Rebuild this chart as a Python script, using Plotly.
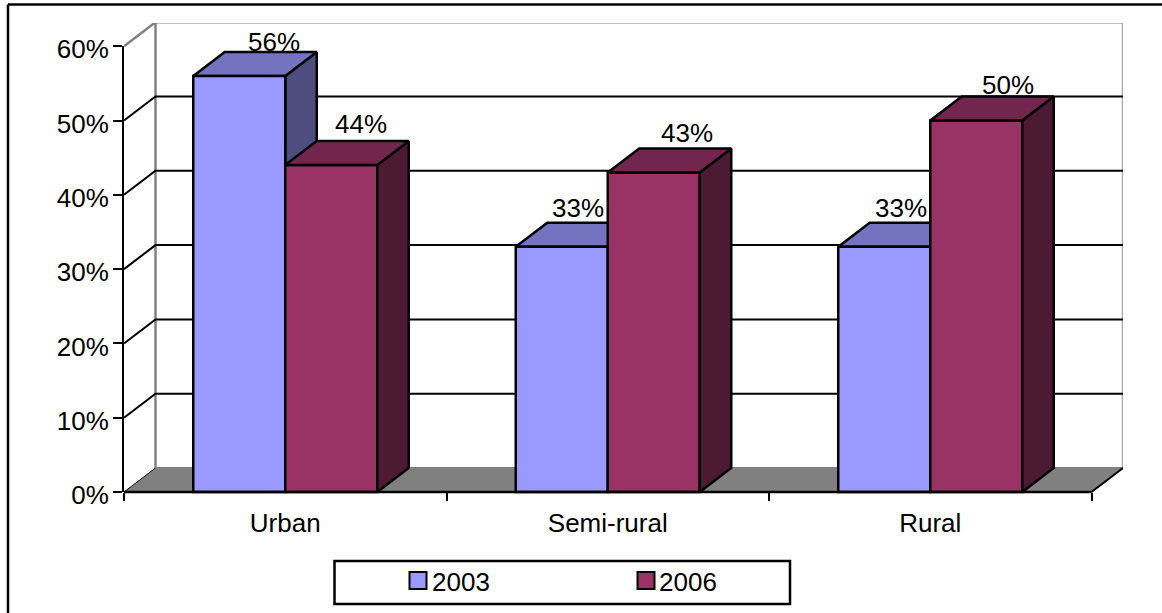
import plotly.graph_objects as go

categories = ["Urban", "Semi-rural", "Rural"]
years = ["2003", "2006"]
values_2003 = [56, 33, 33]
values_2006 = [44, 43, 50]
percent_ticks = [0, 10, 20, 30, 40, 50, 60]

WIDTH, HEIGHT = 1162, 613
M_L, M_R, M_T, M_B = 124, 39, 23, 111
BELOW_ZERO_PX = 10
PLOT_W = WIDTH - M_L - M_R
PLOT_H = HEIGHT - M_T - M_B
PX_PER_CAT = 322.5
PX_PER_PCT = 7.43
DX = 31.5 / PX_PER_CAT
DY = 24 / PX_PER_PCT
BAR_W = 92 / PX_PER_CAT
X_MAX = PLOT_W / PX_PER_CAT
Y_MIN = -BELOW_ZERO_PX / PX_PER_PCT
Y_MAX = Y_MIN + PLOT_H / PX_PER_PCT
centers = [i + 0.5 for i in range(len(categories))]
FONT = "Liberation Sans, Arial, sans-serif"
FONT_SIZE = 26
EDGE = 2.5

FRONT = {"2003": "#9999FF", "2006": "#993366"}
TOP = {"2003": "#7373BF", "2006": "#73264D"}
SIDE = {"2003": "#4D4D80", "2006": "#4D1A33"}
WALL = "#808080"

# y  : the visible percent axis, 0-60% on the front plane
# y2 : scale for the walls and the faces behind the front bars
# y3 : scale for the front bars and the faces in front of them
BACK_Y, FRONT_Y = "y2", "y3"


def poly(xs, ys, fill, xaxis="x", yaxis=BACK_Y, line="black", lw=EDGE):
    """Filled outline in data coordinates."""
    return go.Scatter(x=xs + xs[:1], y=ys + ys[:1], mode="lines", fill="toself",
                      fillcolor=fill, line=dict(color=line, width=lw),
                      xaxis=xaxis, yaxis=yaxis, hoverinfo="skip",
                      showlegend=False, cliponaxis=False)


def stroke(xs, ys, color="black", lw=2):
    return go.Scatter(x=xs, y=ys, mode="lines", line=dict(color=color, width=lw),
                      xaxis="x", yaxis=BACK_Y,
                      hoverinfo="skip", showlegend=False, cliponaxis=False)


def faces(x0, x1, v, year, xaxis, yaxis):
    """Top and right-hand faces of a bar running from x0 to x1 up to value v."""
    top = poly([x0, x1, x1 + DX, x0 + DX], [v, v, v + DY, v + DY], TOP[year], xaxis, yaxis)
    side = poly([x1, x1 + DX, x1 + DX, x1], [0, DY, v + DY, v], SIDE[year], xaxis, yaxis)
    return [side, top]


fig = go.Figure()

# Empty trace that keeps the percent axis in the figure
fig.add_trace(go.Scatter(x=[0], y=[0], mode="markers", marker=dict(opacity=0), xaxis="x", yaxis="y",
                         hoverinfo="skip", showlegend=False))

# Floor, back wall, and the grid running round the left wall onto the back wall
fig.add_trace(poly([0, 3, 3 + DX, DX], [0, 0, DY, DY], WALL, lw=1))
fig.add_trace(stroke([DX, DX], [DY, 60 + DY], WALL, 2.5))
fig.add_trace(stroke([DX, 3 + DX], [60 + DY, 60 + DY], WALL, 2.5))
fig.add_trace(stroke([3 + DX, 3 + DX], [DY, 60 + DY], "#A6A6A6", 2.5))
fig.add_trace(stroke([DX, 3 + DX], [DY, DY], WALL, 2))
fig.add_trace(stroke([0, DX], [60, 60 + DY], WALL, 2.5))
for t in percent_ticks[1:-1]:
    fig.add_trace(stroke([0, DX, 3 + DX], [t, t + DY, t + DY]))
fig.add_trace(stroke([3, 3 + DX], [0, DY]))

# The 2003 top and side faces sit behind the 2006 bars
for c, v in zip(centers, values_2003):
    fig.add_traces(faces(c - BAR_W, c, v, "2003", "x", BACK_Y))

# Front faces
for year, vals in zip(years, (values_2003, values_2006)):
    fig.add_trace(go.Bar(x=centers, y=vals, name=year, xaxis="x2", yaxis=FRONT_Y,
                         marker=dict(color=FRONT[year], line=dict(color="black", width=EDGE)),
                         showlegend=False, hoverinfo="skip"))

for c, v in zip(centers, values_2006):
    fig.add_traces(faces(c, c + BAR_W, v, "2006", "x2", FRONT_Y))

# Horizontal front axis stops at the end of the last category
fig.add_trace(go.Scatter(x=[0, 3], y=[0, 0], mode="lines", xaxis="x2", yaxis=FRONT_Y,
                         line=dict(color="black", width=2.5), hoverinfo="skip",
                         showlegend=False, cliponaxis=False))

annotations = []
label_sets = (
    (values_2003, -BAR_W / 2, (3, -15, -15), (-4, 0.5, 0.5)),
    (values_2006, BAR_W / 2, (-2, 2, 0), (3, 2, -2.5)),
)
for vals, offset, xshifts, yshifts in label_sets:
    for c, v, xs, ys in zip(centers, vals, xshifts, yshifts):
        annotations.append(dict(x=c + offset + DX, y=v + DY, xref="x2", yref=FRONT_Y,
                                text=f"{v}%", showarrow=False, yanchor="bottom",
                                xanchor="center", xshift=xs, yshift=ys - 3,
                                font=dict(family=FONT, size=FONT_SIZE, color="black")))


def px(x):
    return (x - M_L) / PLOT_W


def py(y):
    return 1 - (y - M_T) / PLOT_H


# Chart frame, then the legend box with its swatches and labels
shapes = [
    dict(type="line", xref="paper", yref="paper", x0=px(8), x1=px(8), y0=py(4.5), y1=py(HEIGHT),
         line=dict(color="black", width=2.5)),
    dict(type="line", xref="paper", yref="paper", x0=px(8), x1=px(WIDTH), y0=py(4.5), y1=py(4.5),
         line=dict(color="black", width=2.5)),
    dict(type="rect", xref="paper", yref="paper", x0=px(334.5), x1=px(790), y0=py(561), y1=py(604),
         line=dict(color="black", width=2.5), fillcolor="white"),
]
for year, sx, tx in zip(years, (409.5, 637.5), (431, 658)):
    shapes.append(dict(type="rect", xref="paper", yref="paper", x0=px(sx), x1=px(sx + 17),
                       y0=py(572), y1=py(589), line=dict(color="black", width=2),
                       fillcolor=FRONT[year]))
    annotations.append(dict(x=px(tx), y=py(582), xref="paper", yref="paper", text=year,
                            showarrow=False, xanchor="left", yanchor="middle", borderpad=0,
                            font=dict(family=FONT, size=FONT_SIZE, color="black")))

axis_font = dict(family=FONT, size=FONT_SIZE, color="black")
fig.update_layout(
    width=WIDTH, height=HEIGHT,
    margin=dict(l=M_L, r=M_R, t=M_T, b=M_B, pad=0),
    paper_bgcolor="white", plot_bgcolor="rgba(0,0,0,0)",
    barmode="group", bargap=1 - 2 * BAR_W, bargroupgap=0,
    showlegend=False, shapes=shapes, annotations=annotations,
    xaxis=dict(range=[0, X_MAX], tickmode="array", tickvals=[0, 1, 2, 3], ticktext=["", "", "", ""],
               ticks="outside", ticklen=8, tickwidth=2, tickcolor="black", anchor="y",
               showgrid=False, zeroline=False, showline=False),
    yaxis=dict(domain=[BELOW_ZERO_PX / PLOT_H, (BELOW_ZERO_PX + 60 * PX_PER_PCT) / PLOT_H],
               range=[0, 60], tickmode="array",
               tickvals=percent_ticks, ticktext=[f"{t}%" for t in percent_ticks],
               tickfont=axis_font, ticks="outside", ticklen=9, tickwidth=2, tickcolor="black",
               ticklabelstandoff=-1, ticklabelshift=3, anchor="x",
               showgrid=False, zeroline=False, showline=True, linecolor="black", linewidth=2),
    xaxis2=dict(range=[0, X_MAX], overlaying="x", anchor="y", tickmode="array",
                tickvals=centers, ticktext=categories, tickfont=axis_font, ticks="outside",
                ticklen=8, tickcolor="rgba(0,0,0,0)", ticklabelstandoff=0,
                showgrid=False, zeroline=False, showline=False),
    yaxis2=dict(range=[Y_MIN, Y_MAX], domain=[0, 1], anchor="x", visible=False),
    yaxis3=dict(range=[Y_MIN, Y_MAX], overlaying="y2", anchor="x2", visible=False),
)

fig.write_html("out.html", config=dict(displayModeBar=False))
